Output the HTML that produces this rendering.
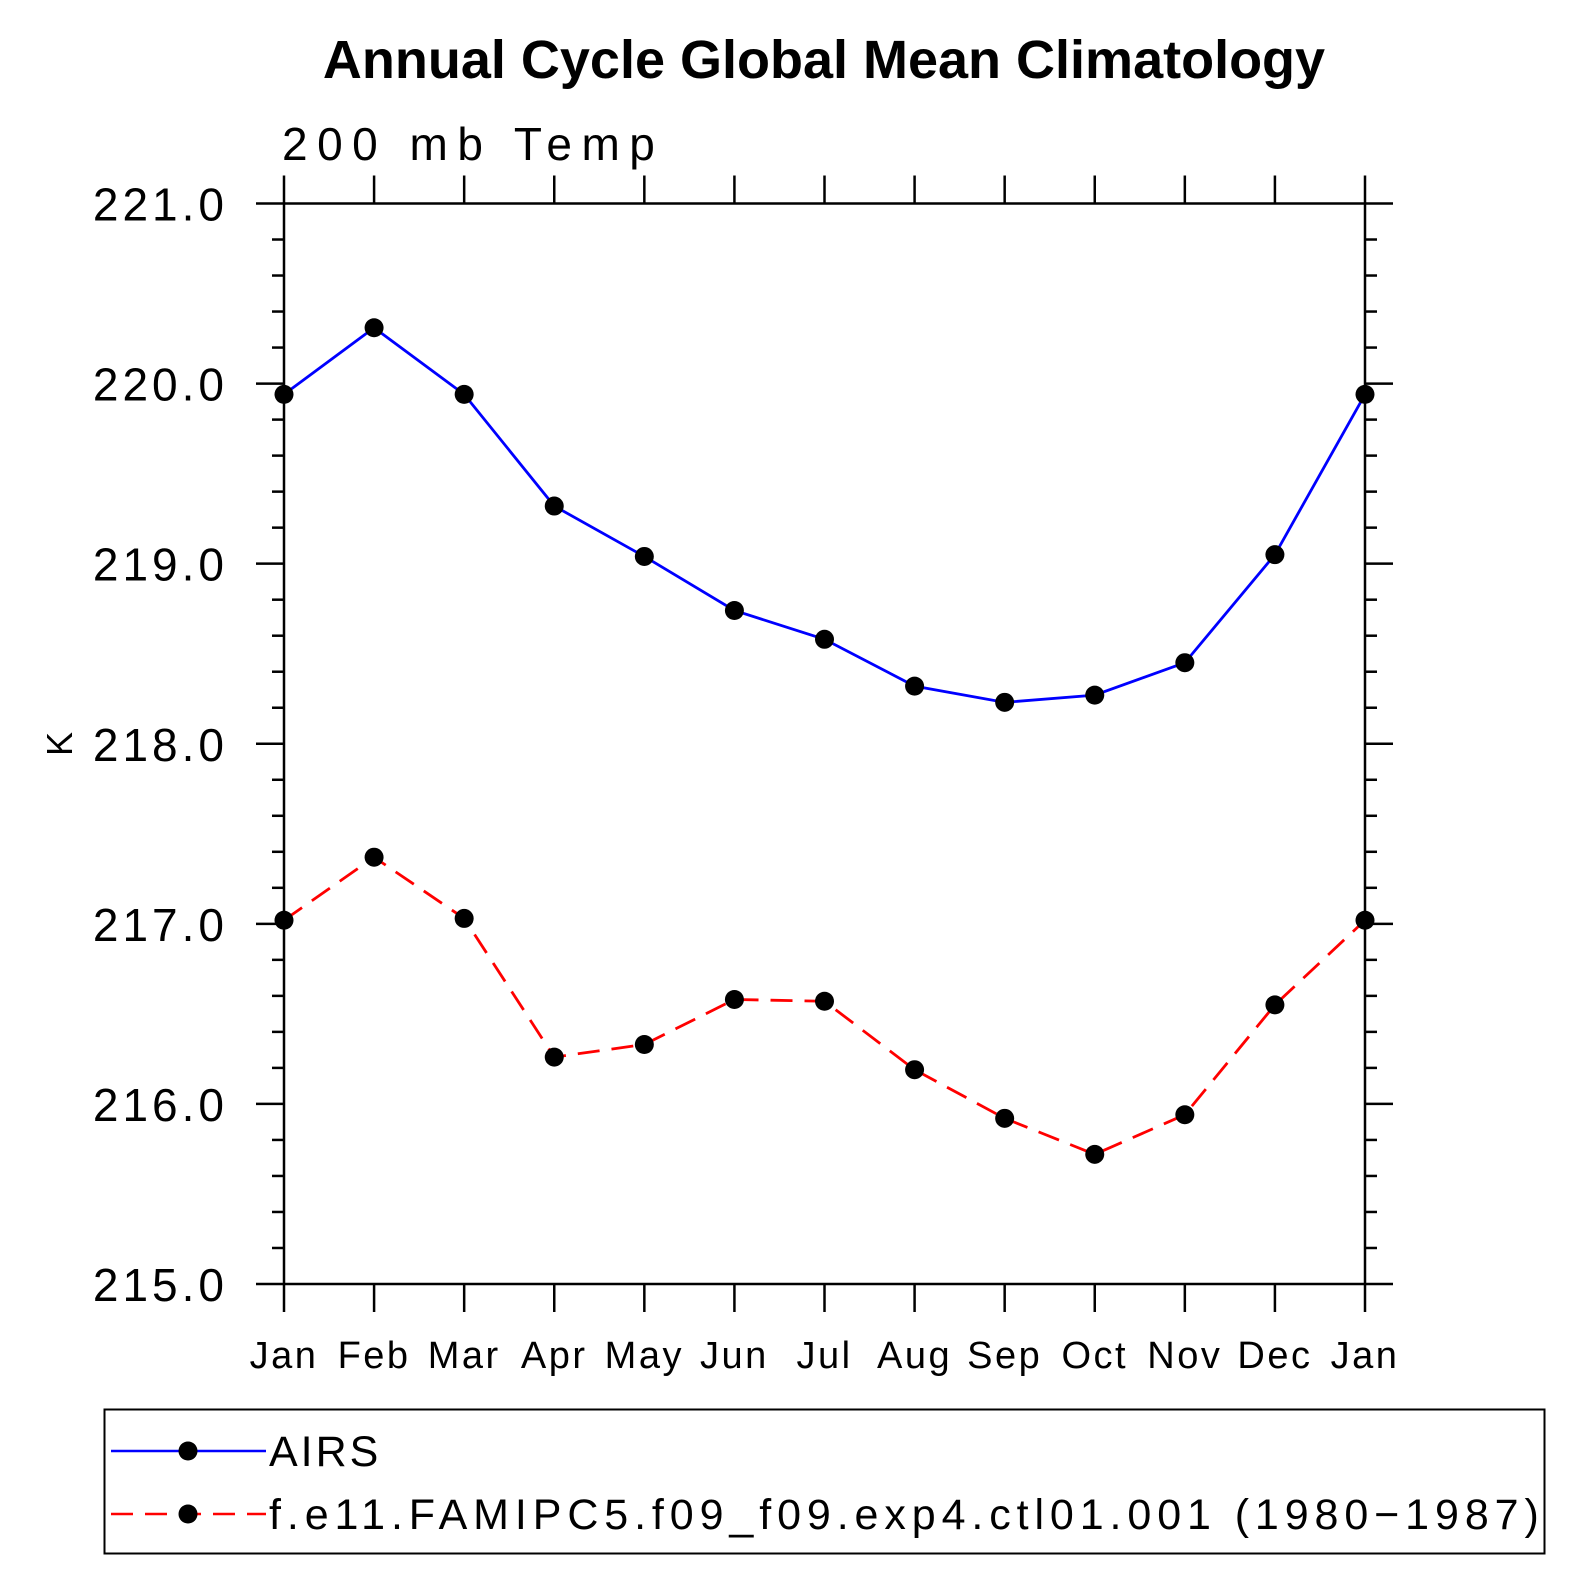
<!DOCTYPE html>
<html><head><meta charset="utf-8"><style>
html,body{margin:0;padding:0;background:#fff;}
svg{display:block;}
text{font-family:"Liberation Sans",sans-serif;}
</style></head><body>
<svg id="chart" width="1591" height="1591" viewBox="0 0 1591 1591">
<text x="824" y="78" text-anchor="middle" font-size="54" font-weight="bold">Annual Cycle Global Mean Climatology</text>
<text x="282" y="160" font-size="46" letter-spacing="9.5" font-weight="300">200 mb Temp</text>
<text transform="translate(72,744) rotate(-90)" text-anchor="middle" font-size="36">K</text>
<g id="axes"></g>
<g id="series"></g>
<rect x="104.5" y="1409.5" width="1440" height="144" fill="none" stroke="#000" stroke-width="2"/>
<g>
<line x1="111" y1="1451" x2="266" y2="1451" stroke="#0000ff" stroke-width="2.5"/>
<circle cx="188" cy="1451" r="9.5" fill="#000"/>
<text x="269" y="1466" font-size="43" letter-spacing="3">AIRS</text>
</g>
<g>
<line x1="111" y1="1514" x2="266" y2="1514" stroke="#ff0000" stroke-width="2.5" stroke-dasharray="22,12"/>
<circle cx="188" cy="1514" r="9.5" fill="#000"/>
<text x="269" y="1529" font-size="43" letter-spacing="5.9">f.e11.FAMIPC5.f09_f09.exp4.ctl01.001 (1980−1987)</text>
</g>
</svg>
<script>
const months=["Jan","Feb","Mar","Apr","May","Jun","Jul","Aug","Sep","Oct","Nov","Dec","Jan"];
const airsValues=[219.94,220.31,219.94,219.32,219.04,218.74,218.58,218.32,218.23,218.27,218.45,219.05,219.94];
const modelValues=[217.02,217.37,217.03,216.26,216.33,216.58,216.57,216.19,215.92,215.72,215.94,216.55,217.02];
const yTicks=[215,216,217,218,219,220,221];
const yTickLabels=["215.0","216.0","217.0","218.0","219.0","220.0","221.0"];
const yMin=215,yMax=221;
const L=284,R=1365,T=203.5,B=1284;
const NS="http://www.w3.org/2000/svg";
function xs(i){return L+(R-L)*i/(months.length-1);}
function ys(v){return B-(B-T)*(v-yMin)/(yMax-yMin);}
function mk(tag,attrs,parent){const e=document.createElementNS(NS,tag);for(const k in attrs)e.setAttribute(k,attrs[k]);parent.appendChild(e);return e;}
const ax=document.getElementById('axes');
const frame=mk('rect',{x:L,y:T,width:R-L,height:B-T,fill:'none',stroke:'#000','stroke-width':2.5},ax);


for(let v=yMin;v<=yMax+1e-9;v+=0.2){
  const y=ys(v);const major=Math.abs(v-Math.round(v))<1e-6;const len=major?28:12;
  const t1=mk('line',{x1:L-len,y1:y,x2:L,y2:y,stroke:'#000','stroke-width':2.5},ax);
  
  
  const t2=mk('line',{x1:R,y1:y,x2:R+len,y2:y,stroke:'#000','stroke-width':2.5},ax);
  
  
}
yTicks.forEach((v,i)=>{
  const t=mk('text',{x:228,y:ys(v)+17,'text-anchor':'end','font-size':46,'letter-spacing':4},ax);
  t.textContent=yTickLabels[i];
  
  
});
months.forEach((m,i)=>{
  const x=xs(i);
  const a=mk('line',{x1:x,y1:T-28,x2:x,y2:T,stroke:'#000','stroke-width':2.5},ax);
  
  
  const b=mk('line',{x1:x,y1:B,x2:x,y2:B+28,stroke:'#000','stroke-width':2.5},ax);
  
  
  const t=mk('text',{x:x,y:1368,'text-anchor':'middle','font-size':38,'letter-spacing':2.5},ax);
  t.textContent=m;
  
  
});
const sg=document.getElementById('series');
function drawSeries(vals,color,dash,name){
  const pts=vals.map((v,i)=>xs(i)+','+ys(v)).join(' ');
  const pl=mk('polyline',{points:pts,fill:'none',stroke:color,'stroke-width':2.8,'stroke-dasharray':dash},sg);
  
  
  vals.forEach((v,i)=>{
    const c=mk('circle',{cx:xs(i),cy:ys(v),r:9.5,fill:'#000'},sg);
    
    
  });
}
drawSeries(airsValues,'#0000ff','none','airs');
drawSeries(modelValues,'#ff0000','22,12','model');
</script>
</body></html>
